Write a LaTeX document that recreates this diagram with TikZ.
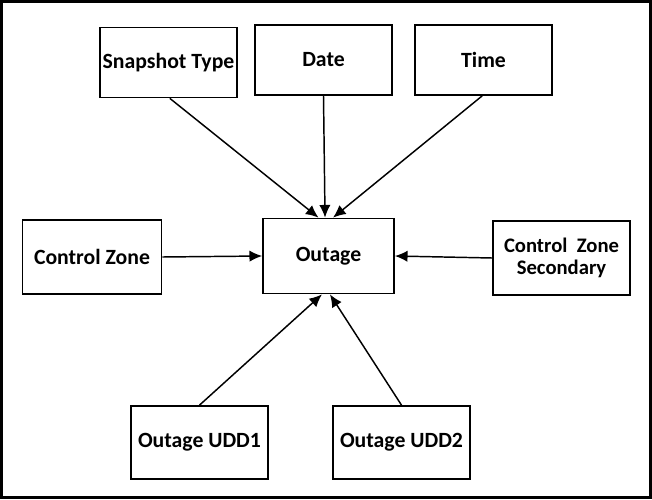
\documentclass[tikz,border=0pt]{standalone}
\usepackage{fontspec}
\setmainfont{Carlito}
\usetikzlibrary{arrows.meta, shapes}

\begin{document}
\begin{tikzpicture}[x=0.75pt, y=-0.75pt,
  every node/.style={font=\bfseries\fontsize{16.3}{16.3}\selectfont},
  entity/.style={draw, line width=1.3pt, fill=white, inner sep=0pt, minimum width=102.75pt, minimum height=52.5pt, align=center},
  feed/.style={-{Latex[length=9.5pt, width=8.5pt]}, line width=1.1pt}]
  % page and frame
  \useasboundingbox (0,0) rectangle (652,499);
  \draw[line width=1.9pt] (1.3,1.3) rectangle (650.7,497.7);

  % central table
  \node[entity, minimum width=98.25pt, minimum height=56.25pt] (outage) at (328.5,256) {Outage};

  % top row
  \node[entity] (snapshot) at (168.5,62.5) {Snapshot Type};
  \node[entity] (date) at (323.5,60) {Date};
  \node[entity] (time) at (483.5,60) {Time};

  % left and right
  \node[entity, minimum width=104.25pt, minimum height=55.5pt] (ctrlzone) at (92,257) {Control Zone};
  \node[entity, minimum height=55.5pt, font=\bfseries\fontsize{15.5}{16}\selectfont] (ctrlsec) at (561.5,258) {Control\ \ Zone\\Secondary};

  % bottom row
  \node[entity, minimum height=54.75pt] (udd1) at (199.5,442.5) {Outage UDD1};
  \node[entity, minimum height=54.75pt] (udd2) at (401.5,442.5) {Outage UDD2};

  % arrows into Outage
  \draw[feed] ([xshift=1pt]snapshot.south) -- ([xshift=-7.5pt]outage.north);
  \draw[feed] (date.south) -- ([xshift=-2.6pt]outage.north);
  \draw[feed] ([xshift=-1pt]time.south) -- ([xshift=3.4pt]outage.north);
  \draw[feed] (ctrlzone.east) -- (outage.west);
  \draw[feed] (ctrlsec.west) -- (outage.east);
  \draw[feed] (udd1.north) -- ([xshift=-4.9pt]outage.south);
  \draw[feed] (udd2.north) -- ([xshift=1.1pt]outage.south);
\end{tikzpicture}
\end{document}
